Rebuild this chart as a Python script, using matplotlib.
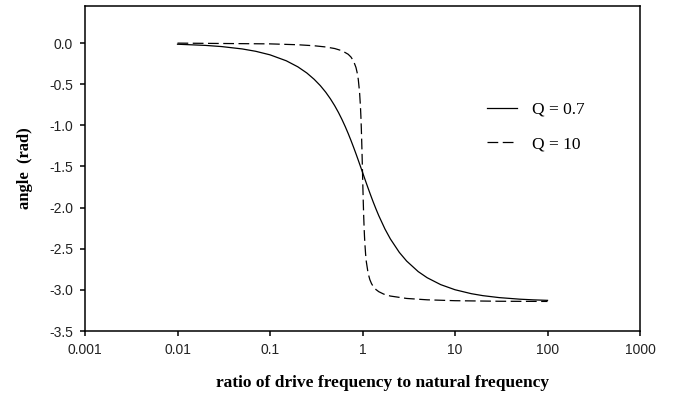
import matplotlib
matplotlib.use('Agg')
import matplotlib.pyplot as plt

# drive/natural frequency ratio and phase angle (rad)
w_q07 = [0.01, 0.02, 0.03, 0.05, 0.07, 0.1, 0.15, 0.2, 0.25, 0.3, 0.35, 0.4,
         0.45, 0.5, 0.55, 0.6, 0.65, 0.7, 0.75, 0.8, 0.85, 0.9, 0.95, 1.0,
         1.05, 1.1, 1.15, 1.2, 1.25, 1.3, 1.4, 1.5, 1.75, 2, 2.5, 3, 4, 5, 7,
         10, 15, 20, 30, 50, 70, 100]
phi_q07 = [-0.0143, -0.0286, -0.0429, -0.0715, -0.1002, -0.1433, -0.2158,
           -0.2892, -0.3638, -0.4404, -0.5178, -0.5972, -0.6785, -0.7610,
           -0.8446, -0.9296, -1.0145, -1.0993, -1.1833, -1.2658, -1.3461,
           -1.4241, -1.4991, -1.5708, -1.6390, -1.7037, -1.7647, -1.8218,
           -1.8758, -1.9268, -2.0183, -2.0989, -2.2610, -2.3806, -2.5444,
           -2.6498, -2.7778, -2.8524, -2.9362, -2.9983, -3.0462, -3.0701,
           -3.0939, -3.1130, -3.1212, -3.1273]

w_q10 = [0.01, 0.1, 0.2, 0.3, 0.4, 0.5, 0.6, 0.7, 0.75, 0.8, 0.85, 0.88, 0.9,
         0.93, 0.95, 0.96, 0.97, 0.98, 0.99, 0.995, 1.0, 1.005, 1.01, 1.02,
         1.03, 1.04, 1.05, 1.06, 1.08, 1.1, 1.15, 1.2, 1.25, 1.3, 1.4, 1.5,
         1.7, 2, 3, 5, 10, 30, 100]
phi_q10 = [-0.0010, -0.0101, -0.0208, -0.0330, -0.0476, -0.0666, -0.0935,
           -0.1364, -0.1698, -0.2187, -0.2972, -0.3722, -0.4418, -0.6029,
           -0.7724, -0.8857, -1.0237, -1.1870, -1.3725, -1.4709, -1.5708,
           -1.6703, -1.7673, -1.9482, -2.1046, -2.2357, -2.3441, -2.4328,
           -2.5655, -2.6593, -2.7987, -2.8754, -2.9229, -2.9554, -2.9968,
           -3.0222, -3.0519, -3.0750, -3.1041, -3.1208, -3.1315, -3.1383,
           -3.1406]

labels = ['Q = 0.7', 'Q = 10']
x_ticks = [0.001, 0.01, 0.1, 1, 10, 100, 1000]
x_ticklabels = ['0.001', '0.01', '0.1', '1', '10', '100', '1000']
y_ticks = [0.0, -0.5, -1.0, -1.5, -2.0, -2.5, -3.0, -3.5]

fig = plt.figure(figsize=(6.73, 3.96), dpi=100)
ax = fig.add_axes([0.1263, 0.1641, 0.951 - 0.1263, 0.9848 - 0.1641])

ax.plot(w_q07, phi_q07, color='black', lw=0.9, label=labels[0])
ax.plot(w_q10, phi_q10, color='black', lw=0.9, dashes=(8.6, 3.6), label=labels[1])

ax.set_xscale('log')
ax.set_xlim(0.001, 1000)
ax.set_ylim(-3.5, 0.45)
ax.set_xticks(x_ticks)
ax.set_xticklabels(x_ticklabels)
ax.minorticks_off()
ax.set_yticks(y_ticks)
ax.set_yticklabels(['%.1f' % v for v in y_ticks])

for s in ax.spines.values():
    s.set_linewidth(1.1)
ax.tick_params(direction='out', length=3.5, width=1.1, labelsize=10,
               labelcolor='#222222', pad=5)
for lab in ax.get_xticklabels() + ax.get_yticklabels():
    lab.set_family('Liberation Sans')

ax.set_xlabel('ratio of drive frequency to natural frequency',
              family='Liberation Serif', fontweight='bold', fontsize=12.5, labelpad=13)
ax.xaxis.set_label_coords(0.537, -0.135)
ax.set_ylabel('angle  (rad)', family='Liberation Serif', fontweight='bold',
              fontsize=12, labelpad=12)

ax.legend(loc='center left', bbox_to_anchor=(0.696, 0.628), frameon=False,
          prop={'family': 'Liberation Serif', 'size': 12.5},
          handlelength=1.75, handletextpad=0.85, labelspacing=1.05)

fig.savefig('out.png', dpi=100)
